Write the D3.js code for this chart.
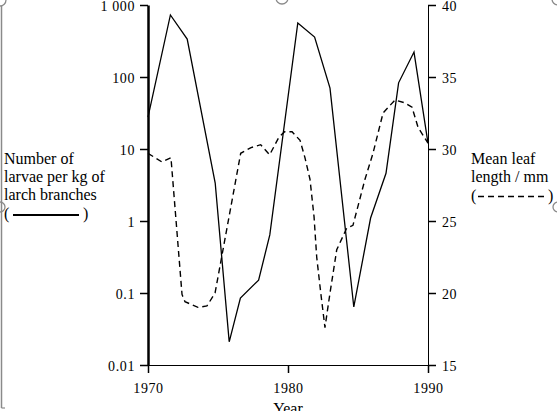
<!DOCTYPE html>
<html lang="en">
  <head>
    <meta charset="utf-8">
    <title>Larch budmoth larvae and leaf length</title>
    <script src="https://d3js.org/d3.v7.min.js"></script>
    <style>
      body { margin: 0; background: #fff; }
      svg { display: block; }
      text { font-family: "Liberation Serif", "Times New Roman", serif; fill: #000; }
    </style>
  </head>

	<body>
		<svg id="chart" width="557" height="411"></svg>

        <script type="text/javascript">
            // larvae per kg of larch branches (solid line, log axis on the left)
            var larvaeYears  = [1970, 1971.6, 1972.8, 1974.8, 1975.8, 1976.6, 1977.9, 1978.7, 1980.7, 1981.9, 1983.0, 1984.7, 1985.9, 1987.0, 1987.9, 1989.0, 1990];
            var larvaeValues = [27.8, 727, 337, 3.37, 0.021, 0.085, 0.151, 0.64, 562, 359, 70, 0.064, 1.1, 4.6, 83, 222, 12.1];

            // mean leaf length in mm (dashed line, right axis)
            var leafYears  = [1970, 1971, 1971.64, 1972.43, 1972.64, 1973.57, 1974.21, 1974.79, 1976.62, 1977.36, 1978.05, 1978.69, 1979.34, 1979.76, 1980.29, 1980.86, 1981.21, 1981.57, 1981.86, 1982.05, 1982.34, 1982.64, 1983.0, 1983.48, 1984.19, 1984.64, 1985.5, 1986.07, 1986.79, 1987.64, 1988.36, 1988.86, 1989.29, 1990];
            var leafValues = [29.7, 29.1, 29.4, 19.9, 19.4, 19.0, 19.1, 20.0, 29.7, 30.1, 30.3, 29.6, 30.8, 31.2, 31.2, 30.6, 29.4, 27.9, 25.3, 22.5, 20.0, 17.6, 20.0, 23.0, 24.5, 24.7, 27.9, 29.7, 32.5, 33.4, 33.2, 32.9, 31.5, 30.4];

            var yearTicks   = [1970, 1980, 1990];
            var larvaeTicks = [0.01, 0.1, 1, 10, 100, 1000];
            var larvaeTickLabels = ["0.01", "0.1", "1", "10", "100", "1 000"];
            var leafTicks   = [15, 20, 25, 30, 35, 40];

            var leftLabel  = ["Number of", "larvae per kg of", "larch branches"];
            var rightLabel = ["Mean leaf", "length / mm"];

            var svg = d3.select("svg#chart");
            var grey = "#8a8a8a";

            // bits of the text box frame round the figure
            svg.append("line").attr("x1", 1.5).attr("y1", 6).attr("x2", 1.5).attr("y2", 408)
                .attr("stroke", grey).attr("stroke-width", 1.5);
            svg.append("line").attr("x1", 1.5).attr("y1", 408).attr("x2", 5).attr("y2", 408)
                .attr("stroke", grey).attr("stroke-width", 1.2);
            [[0, 0, 6], [282, -2, 6], [558, -1, 6], [0, 207, 5], [558, 207, 5]].forEach(function(c) {
                svg.append("circle").attr("cx", c[0]).attr("cy", c[1]).attr("r", c[2])
                    .attr("fill", "none").attr("stroke", grey).attr("stroke-width", 1.3);
            });

            var xScale = d3.scaleLinear().domain([1970, 1990]).range([148, 428]);
            var yLeft  = d3.scaleLog().domain([0.01, 1000]).range([365, 5]);
            var yRight = d3.scaleLinear().domain([15, 40]).range([365, 5]);

            var xAxis = d3.axisBottom(xScale).tickValues(yearTicks).tickSize(8).tickSizeOuter(0)
                .tickPadding(10).tickFormat(d3.format("d"));
            var leftAxis = d3.axisLeft(yLeft).tickValues(larvaeTicks).tickSize(8).tickSizeOuter(0)
                .tickPadding(5).tickFormat(function(d, i) { return larvaeTickLabels[i]; });
            var rightAxis = d3.axisRight(yRight).tickValues(leafTicks).tickSize(8).tickSizeOuter(0)
                .tickPadding(6);

            var gx = svg.append("g").attr("transform", "translate(0,365)").call(xAxis);
            var gl = svg.append("g").attr("transform", "translate(148,0)").call(leftAxis);
            var gr = svg.append("g").attr("transform", "translate(428,0)").call(rightAxis);

            [gx, gl, gr].forEach(function(g) {
                g.selectAll("text").style("font-size", "14px").style("letter-spacing", "0.6px")
                    .style("font-family", "'Liberation Serif', serif").attr("fill", "#000");
                g.selectAll("line").attr("stroke", "#000").attr("stroke-width", 1.5);
                g.select(".domain").attr("stroke", "#000").attr("stroke-width", 1);
            });
            gl.selectAll("text").attr("dy", "0.42em");
            gr.selectAll("text").attr("dy", "0.42em");
            gl.select(".domain").attr("stroke-width", 2.5);

            svg.append("text").attr("x", 288).attr("y", 414).attr("text-anchor", "middle")
                .style("font-size", "16px").text("Year");

            var larvaeLine = d3.line()
                .x(function(d, i) { return xScale(larvaeYears[i]); })
                .y(function(d) { return yLeft(d); });
            var leafLine = d3.line()
                .x(function(d, i) { return xScale(leafYears[i]); })
                .y(function(d) { return yRight(d); });

            svg.append("path").datum(leafValues).attr("d", leafLine)
                .attr("fill", "none").attr("stroke", "#000").attr("stroke-width", 1.4)
                .attr("stroke-dasharray", "6,4");
            svg.append("path").datum(larvaeValues).attr("d", larvaeLine)
                .attr("fill", "none").attr("stroke", "#000").attr("stroke-width", 1.3)
                .attr("stroke-linejoin", "miter");

            // left series label
            svg.selectAll("text.lleft").data(leftLabel).enter().append("text").attr("class", "lleft")
                .attr("x", 4).attr("y", function(d, i) { return 164 + i * 18; })
                .style("font-size", "16px").text(function(d) { return d; });
            svg.append("text").attr("x", 4).attr("y", 219).style("font-size", "16px").text("(");
            svg.append("line").attr("x1", 13).attr("x2", 79).attr("y1", 215).attr("y2", 215)
                .attr("stroke", "#000").attr("stroke-width", 2);
            svg.append("text").attr("x", 83).attr("y", 219).style("font-size", "16px").text(")");

            // right series label
            svg.selectAll("text.lright").data(rightLabel).enter().append("text").attr("class", "lright")
                .attr("x", 471).attr("y", function(d, i) { return 164 + i * 18; })
                .style("font-size", "16px").text(function(d) { return d; });
            svg.append("text").attr("x", 471).attr("y", 201).style("font-size", "16px").text("(");
            svg.append("line").attr("x1", 478).attr("x2", 546).attr("y1", 196.5).attr("y2", 196.5)
                .attr("stroke", "#000").attr("stroke-width", 1.3).attr("stroke-dasharray", "6,4");
            svg.append("text").attr("x", 548).attr("y", 201).style("font-size", "16px").text(")");
		</script>

	</body>

</html>
